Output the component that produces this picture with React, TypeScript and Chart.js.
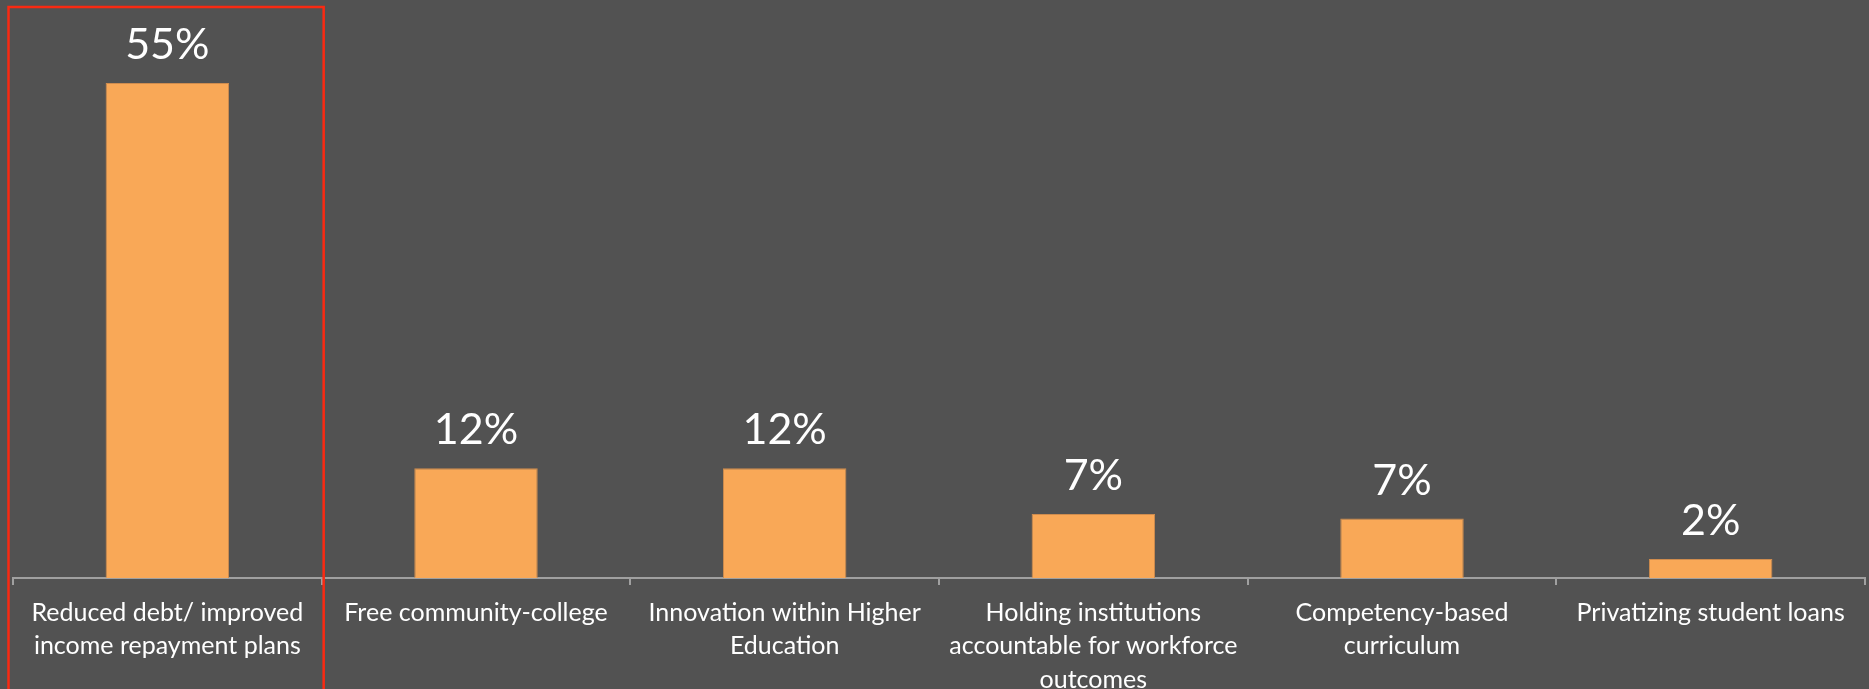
import React, { useEffect, useRef } from "react";
import { Chart, registerables } from "chart.js";

Chart.register(...registerables);

const categories: string[][] = [
  ["Reduced debt/ improved", "income repayment plans"],
  ["Free community-college"],
  ["Innovation within Higher", "Education"],
  ["Holding institutions", "accountable for workforce", "outcomes"],
  ["Competency-based", "curriculum"],
  ["Privatizing student loans"],
];
const values: number[] = [55, 12.2, 12.2, 7.1, 6.6, 2.1];
const valueLabels: string[] = ["55%", "12%", "12%", "7%", "7%", "2%"];
const highlightedIndex = 0;

const W = 1869;
const H = 689;
const BG = "#525252";
const BAR = "#F9A857";
const BAR_BORDER = "#CF8C4E";
const AXIS = "#A0A0A0";
const TEXT = "#FFFFFF";
const FONT = "Lato, 'Open Sans', sans-serif";

const valueLabelPlugin = {
  id: "valueLabels",
  afterDatasetsDraw(chart: any) {
    const ctx = chart.ctx;
    const meta = chart.getDatasetMeta(0);
    ctx.save();
    ctx.fillStyle = TEXT;
    ctx.font = `43px ${FONT}`;
    ctx.textAlign = "center";
    ctx.textBaseline = "alphabetic";
    meta.data.forEach((bar: any, i: number) => {
      ctx.fillText(valueLabels[i], bar.x, bar.y - 24);
    });
    ctx.restore();
  },
};

const highlightPlugin = {
  id: "highlightBox",
  afterDraw(chart: any) {
    const xs = chart.scales.x;
    const ctx = chart.ctx;
    const catW = (xs.right - xs.left) / categories.length;
    const center = xs.getPixelForValue(highlightedIndex);
    const x0 = center - catW / 2 - 4.5;
    const x1 = center + catW / 2 + 2;
    ctx.save();
    ctx.strokeStyle = "#FA2A12";
    ctx.lineWidth = 2.5;
    ctx.strokeRect(x0, 7, x1 - x0, chart.height + 20);
    ctx.restore();
  },
};

export default function App() {
  const canvasRef = useRef<HTMLCanvasElement | null>(null);

  useEffect(() => {
    const canvas = canvasRef.current;
    if (!canvas) return;
    const chart = new Chart(canvas, {
      type: "bar",
      data: {
        labels: categories,
        datasets: [
          {
            data: values,
            backgroundColor: BAR,
            borderColor: BAR_BORDER,
            borderWidth: 1,
            barPercentage: 0.4,
            categoryPercentage: 1,
          },
        ],
      },
      options: {
        animation: false,
        responsive: false,
        maintainAspectRatio: false,
        devicePixelRatio: 1,
        layout: { padding: { top: 38, left: 13, right: 4, bottom: 0 } },
        plugins: {
          legend: { display: false },
          tooltip: { enabled: false },
        },
        scales: {
          y: {
            display: false,
            min: 0,
            max: 60,
          },
          x: {
            afterFit: (scale: any) => {
              scale.height = 111;
            },
            border: { display: true, color: AXIS, width: 2 },
            grid: {
              display: true,
              offset: true,
              drawOnChartArea: false,
              drawTicks: true,
              tickLength: 7,
              color: AXIS,
              lineWidth: 2,
            },
            ticks: {
              color: TEXT,
              font: { family: FONT, size: 25, lineHeight: 1.34 },
              padding: 11,
              maxRotation: 0,
              minRotation: 0,
              autoSkip: false,
            },
          },
        },
      },
      plugins: [valueLabelPlugin, highlightPlugin],
    });
    return () => chart.destroy();
  }, []);

  return (
    <div
      style={{
        position: "fixed",
        left: 0,
        top: 0,
        width: W,
        height: H,
        background: BG,
        overflow: "hidden",
      }}
    >
      <canvas ref={canvasRef} width={W} height={H} style={{ display: "block" }} />
    </div>
  );
}
